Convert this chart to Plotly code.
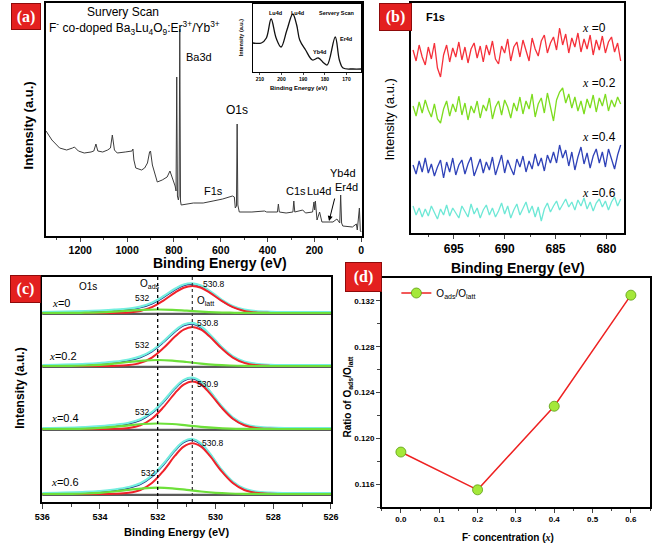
import plotly.graph_objects as go

W, H = 661, 545
def px(x): return x / W
def py(y): return 1 - y / H

# ---------------- DATA ----------------
# (a) survey scan
survey_energy = [1346, 1321, 1288, 1258, 1233, 1225, 1208, 1183, 1154, 1142, 1133, 1125, 1104, 1083,
                 1071, 1063, 1054, 1042, 1008, 979, 975, 971, 963, 938, 925, 913, 904, 900, 892, 883,
                 871, 850, 829, 817, 808, 800, 795, 791, 788, 785, 781, 778, 775, 772, 769, 717, 675,
                 633, 592, 550, 542, 538, 533, 530, 527, 521, 467, 413, 404, 358, 354, 350, 321, 292,
                 288, 284, 250, 238, 208, 202, 199, 196, 189, 178, 168, 133, 121, 104, 92, 88, 84, 79,
                 50, 38, 21, 17, 8, 4, 0]
survey_intensity = [105, 96, 88, 86, 88, 89, 85, 83, 84, 85, 92, 85, 84, 86,
                    88, 101, 86, 83, 84, 85, 87, 76, 68, 66, 68, 73, 84, 85, 71, 63,
                    54, 56, 59, 65, 59, 53, 50, 45, 159, 40, 36, 40, 207, 35, 31, 33, 33,
                    35, 37, 40, 39, 28, 30, 112, 31, 24, 24, 25, 24, 24, 32, 24, 23, 24,
                    35, 24, 26, 23, 24, 34, 26, 35, 16, 24, 14, 14, 14, 17, 13, 41, 13, 10,
                    9, 9, 12, 6, 28, 5, 4]
inset_energy = [213.2, 209.3, 207.0, 204.8, 202.5, 200.2, 197.5, 194.8, 193.0, 191.6, 188.9,
                185.7, 183.0, 180.5, 178.9, 175.2, 173.3, 171.6, 167.0, 163.2]
inset_intensity = [29, 29, 34, 53, 34, 25, 42, 58, 47, 32, 22, 12, 14, 9, 7, 35, 12, 4, 3, 3]
survey_ticks = [0, 200, 400, 600, 800, 1000, 1200]
inset_ticks = [170, 180, 190, 200, 210]

# (b) F1s
f1s_energy = [699.0, 698.7, 698.4, 698.1, 697.8, 697.5, 697.2, 696.9, 696.6, 696.3, 696.0, 695.7,
              695.4, 695.1, 694.8, 694.5, 694.2, 693.9, 693.6, 693.3, 693.0, 692.7, 692.4, 692.1,
              691.8, 691.5, 691.2, 690.9, 690.6, 690.3, 690.0, 689.7, 689.4, 689.1, 688.8, 688.5,
              688.2, 687.9, 687.6, 687.3, 687.0, 686.7, 686.4, 686.1, 685.8, 685.5, 685.2, 684.9,
              684.6, 684.3, 684.0, 683.7, 683.4, 683.1, 682.8, 682.5, 682.2, 681.9, 681.6, 681.3,
              681.0, 680.7, 680.4, 680.1, 679.8, 679.5, 679.2, 678.9, 678.6]
f1s_x0 = [183, 172, 188, 176, 168, 186, 174, 190, 165, 156, 178, 188, 171, 185, 176, 191, 173, 186,
          170, 184, 190, 175, 187, 171, 188, 178, 192, 174, 169, 187, 180, 194, 172, 186, 191, 176,
          193, 181, 172, 195, 184, 177, 192, 198, 180, 190, 196, 183, 205, 188, 199, 180, 195, 186,
          200, 181, 194, 184, 198, 178, 193, 183, 197, 180, 191, 196, 181, 190, 172]
f1s_x02 = [127, 117, 131, 120, 133, 123, 116, 129, 114, 110, 124, 132, 117, 129, 121, 137, 118, 130,
           113, 127, 120, 132, 115, 128, 122, 135, 114, 126, 132, 118, 133, 126, 115, 130, 122, 136,
           119, 132, 124, 139, 116, 129, 135, 120, 140, 126, 112, 133, 141, 145, 130, 139, 125, 136,
           122, 132, 119, 134, 125, 138, 121, 135, 127, 139, 122, 133, 126, 136, 129]
f1s_x04 = [68, 59, 72, 61, 75, 60, 69, 57, 66, 73, 55, 71, 61, 75, 58, 68, 73, 59, 69, 76, 57, 66,
           74, 60, 71, 63, 76, 58, 69, 78, 60, 73, 65, 58, 74, 66, 77, 61, 72, 64, 79, 67, 75, 62,
           78, 70, 81, 70, 88, 75, 83, 67, 81, 63, 76, 86, 69, 80, 65, 77, 84, 70, 81, 66, 84, 73,
           64, 78, 88]
f1s_x06 = [27, 18, 25, 16, 24, 17, 27, 20, 14, 24, 18, 28, 17, 25, 20, 15, 27, 21, 16, 29, 19, 25,
           15, 23, 28, 18, 25, 16, 22, 30, 19, 27, 15, 23, 29, 18, 25, 31, 20, 27, 16, 26, 12, 24,
           30, 21, 27, 32, 23, 29, 34, 26, 31, 23, 33, 27, 35, 24, 31, 22, 30, 34, 26, 32, 23, 31,
           36, 27, 34]
f1s_ticks = [680, 685, 690, 695]

# (c) O1s fits (heights above each baseline)
o1s_energy = [536, 534.5, 534, 533.5, 533, 532.6, 532.2, 531.8, 531.4, 531.1, 530.8, 530.5, 530.2,
              529.8, 529.4, 529.0, 528.6, 528.1, 527.6, 527.1, 526]
latt_x0 = [0, 0, 0, 0.1, 0.6, 2.1, 5.8, 12.4, 20.4, 25.2, 27, 25.2, 20.4, 12.4, 5.8, 2.1, 0.6, 0.1, 0, 0, 0]
latt_x02 = [0, 0, 0, 0.1, 0.9, 3.1, 8.4, 17.9, 29.4, 36.3, 39, 36.3, 29.4, 17.9, 8.4, 3.1, 0.9, 0.1, 0, 0, 0]
latt_x04 = [0, 0, 0, 0.2, 1.1, 3.8, 10.3, 21.8, 35.9, 44.4, 47.6, 44.4, 35.9, 21.8, 10.3, 3.8, 1.1, 0.2, 0, 0, 0]
latt_x06 = [0, 0, 0, 0.2, 1.2, 4.0, 11.0, 23.2, 38.3, 47.3, 50.7, 47.3, 38.3, 23.2, 11.0, 4.0, 1.2, 0.2, 0, 0, 0]
env_x0 = [0, 1.1, 1.7, 2.5, 3.7, 5.6, 9.5, 15.9, 23.4, 27.7, 28.9, 26.6, 21.3, 12.9, 6.3, 2.6, 1.0, 0.4, 0.1, 0, 0]
env_x02 = [0, 1.3, 2.2, 3.5, 5.7, 8.8, 14.6, 23.9, 34.6, 40.6, 42.3, 38.7, 31.0, 18.7, 9.1, 3.6, 1.4, 0.4, 0.1, 0, 0]
env_x04 = [0, 1.2, 2.1, 3.4, 5.5, 9.0, 16.0, 27.3, 40.6, 48.3, 50.6, 46.6, 37.3, 22.5, 10.9, 4.3, 1.5, 0.5, 0.1, 0, 0]
env_x06 = [0, 1.3, 2.2, 3.7, 6.2, 9.9, 17.5, 29.5, 43.7, 51.8, 54.2, 49.8, 40.0, 24.1, 11.7, 4.6, 1.7, 0.5, 0.1, 0, 0]
ads_energy = [536, 535, 534.5, 534, 533.5, 533, 532.5, 532, 531.5, 531, 530.5, 530, 529.5, 529, 528, 526]
ads_x0 = [0, 0.1, 0.3, 0.7, 1.4, 2.3, 3.2, 3.5, 3.2, 2.3, 1.4, 0.7, 0.3, 0.1, 0, 0]
ads_x02 = [0, 0.1, 0.5, 1.2, 2.4, 4.0, 5.4, 6.0, 5.4, 4.0, 2.4, 1.2, 0.5, 0.1, 0, 0]
ads_x04 = [0, 0.1, 0.4, 1.1, 2.2, 3.6, 5.0, 5.5, 5.0, 3.6, 2.2, 1.1, 0.4, 0.1, 0, 0]
ads_x06 = [0, 0.2, 0.5, 1.2, 2.5, 4.2, 5.7, 6.3, 5.7, 4.2, 2.5, 1.2, 0.5, 0.2, 0, 0]
o1s_peak_labels = ["530.8", "530.8", "530.9", "530.8"]
o1s_ticks = [526, 528, 530, 532, 534, 536]

# (d) ratio
f_conc = [0.0, 0.2, 0.4, 0.6]
ratio = [0.1188, 0.1155, 0.1228, 0.1325]

# ---------------- FIGURE ----------------
SANS = "Liberation Sans, Arial"
SERIF = "Liberation Serif, Times New Roman"
fig = go.Figure()

# (a)
fig.add_trace(go.Scatter(x=survey_energy, y=survey_intensity, mode="lines",
                         line=dict(color="#3c3c3c", width=1), xaxis="x", yaxis="y", showlegend=False))
fig.add_trace(go.Scatter(x=inset_energy, y=inset_intensity, mode="lines", line_shape="spline",
                         line=dict(color="#111", width=1.3), xaxis="x2", yaxis="y2", showlegend=False))
# (b)
for vals, col in [(f1s_x0, "#f5303a"), (f1s_x02, "#7ddc1f"), (f1s_x04, "#2f42b8"), (f1s_x06, "#6ee8d6")]:
    fig.add_trace(go.Scatter(x=f1s_energy, y=vals, mode="lines", line=dict(color=col, width=1.3),
                             xaxis="x3", yaxis="y3", showlegend=False))
# (c)
baselines = [189, 136, 73, 8]
sets = [(latt_x0, env_x0, ads_x0), (latt_x02, env_x02, ads_x02),
        (latt_x04, env_x04, ads_x04), (latt_x06, env_x06, ads_x06)]
for off, (latt, env, ads) in zip(baselines, sets):
    fig.add_trace(go.Scatter(x=[536, 526], y=[off - 0.8, off - 0.8], mode="lines",
                             line=dict(color="#5a5a5a", width=2.2), xaxis="x4", yaxis="y4", showlegend=False))
    fig.add_trace(go.Scatter(x=o1s_energy, y=[v + off for v in env], mode="lines", line_shape="spline",
                             line=dict(color="#1c2580", width=2.0), xaxis="x4", yaxis="y4", showlegend=False))
    fig.add_trace(go.Scatter(x=o1s_energy, y=[v + off + 0.8 for v in env], mode="lines", line_shape="spline",
                             line=dict(color="#74efe0", width=2.2), xaxis="x4", yaxis="y4", showlegend=False))
    fig.add_trace(go.Scatter(x=o1s_energy, y=[v + off for v in latt], mode="lines", line_shape="spline",
                             line=dict(color="#f0222a", width=2), xaxis="x4", yaxis="y4", showlegend=False))
    fig.add_trace(go.Scatter(x=ads_energy, y=[v + off for v in ads], mode="lines", line_shape="spline",
                             line=dict(color="#6ee03a", width=2.2), xaxis="x4", yaxis="y4", showlegend=False))
# (d)
fig.add_trace(go.Scatter(x=f_conc, y=ratio, mode="lines+markers", name="O<sub>ads</sub>/O<sub>latt</sub>",
                         line=dict(color="#ee2222", width=1.5),
                         marker=dict(size=10, color="#a4e83a", line=dict(color="#5c9d12", width=0.8)),
                         xaxis="x5", yaxis="y5", showlegend=True))

def axis(domain, rng, **kw):
    d = dict(domain=domain, range=rng, showline=True, linecolor="black", linewidth=1.5, mirror=True,
             showgrid=False, zeroline=False, ticks="", showticklabels=False)
    d.update(kw)
    return d

tf = lambda s: dict(family=SANS, size=s, color="black", weight="bold")

layout = dict(
    width=W, height=H, autosize=False, margin=dict(l=0, r=0, t=0, b=0),
    paper_bgcolor="white", plot_bgcolor="white",
    xaxis=axis([px(39), px(363)], [1346, -4], anchor="y", ticks="outside", ticklen=4, tickwidth=1.2,
               showticklabels=True, tickvals=survey_ticks, tickfont=tf(10.5),
               minor=dict(ticks="outside", ticklen=2.5, dtick=100, tick0=0, tickwidth=1)),
    yaxis=axis([py(236), py(3)], [0, 233], anchor="x"),
    xaxis2=axis([px(251), px(362)], [213.2, 163.2], anchor="y2", linewidth=1, ticks="outside", ticklen=2,
                tickwidth=0.8, showticklabels=True, tickvals=inset_ticks, tickfont=tf(5)),
    yaxis2=axis([py(72), py(4)], [0, 68], anchor="x2", linewidth=1),
    xaxis3=axis([px(413), px(631)], [699.2, 678.3], anchor="y3", ticks="outside", ticklen=4, tickwidth=1.2,
                showticklabels=True, tickvals=f1s_ticks, tickfont=tf(12),
                minor=dict(ticks="outside", ticklen=2.5, dtick=2.5, tick0=680, tickwidth=1)),
    yaxis3=axis([py(233), py(3)], [0, 230], anchor="x3"),
    xaxis4=axis([px(35), px(331)], [536, 526], anchor="y4", ticks="outside", ticklen=5, tickwidth=1.2,
                showticklabels=True, tickvals=o1s_ticks, tickfont=tf(9),
                minor=dict(ticks="outside", ticklen=3, dtick=1, tick0=526, tickwidth=1)),
    yaxis4=axis([py(502), py(277)], [0, 225], anchor="x4"),
    xaxis5=axis([px(383), px(658)], [-0.05, 0.65], anchor="y5", ticks="outside", ticklen=4, tickwidth=1.2,
                showticklabels=True, dtick=0.1, tick0=0, tickformat=".1f", tickfont=tf(8),
                minor=dict(ticks="outside", ticklen=2.5, dtick=0.05, tickwidth=1)),
    yaxis5=axis([py(507), py(278)], [0.114, 0.134], anchor="x5", ticks="outside", ticklen=4, tickwidth=1.2,
                showticklabels=True, dtick=0.004, tick0=0.116, tickformat=".3f", tickfont=tf(8),
                minor=dict(ticks="outside", ticklen=2.5, dtick=0.002, tick0=0.116, tickwidth=1)),
    legend=dict(x=px(398), y=py(293), xanchor="left", yanchor="middle", bgcolor="rgba(0,0,0,0)",
                font=dict(family=SANS, size=10, color="black"), itemwidth=30),
)
fig.update_layout(**layout)

ann = []
def A(text, x, y, size, bold=False, angle=0, xanchor="center", family=SANS, color="black"):
    ann.append(dict(text=text, x=px(x), y=py(y), xref="paper", yref="paper", showarrow=False,
                    xanchor=xanchor, yanchor="middle", textangle=angle,
                    font=dict(family=family, size=size, color=color, weight="bold" if bold else "normal")))

XI = "<span style='font-family:Liberation Serif'><i>x</i></span>"
# (a)
A("Survery Scan", 118, 12, 12)
A("F<sup>-</sup> co-doped Ba<sub>3</sub>Lu<sub>4</sub>O<sub>9</sub>:Er<sup>3+</sup>/Yb<sup>3+</sup>", 130, 28, 12)
A("Ba3d", 196, 57, 11)
A("O1s", 235, 110, 12)
A("F1s", 211, 191, 11)
A("C1s", 295, 191, 11)
A("Lu4d", 319, 191, 11)
A("Yb4d", 343, 173, 11)
A("Er4d", 347, 187, 11)
A("Intensity (a.u.)", 22, 125, 13, bold=True, angle=-90)
A("Binding Energy (eV)", 217, 263, 14, bold=True)
# inset
A("Lu4d", 274, 13, 5.5, bold=True)
A("Lu4d", 297, 13, 5.5, bold=True)
A("Servery Scan", 337, 13, 5.5, bold=True)
A("Yb4d", 319, 52, 5.5, bold=True)
A("Er4d", 346, 39, 5.5, bold=True)
A("Intensity (a.u.)", 239, 38, 5.5, bold=True, angle=-90)
A("Binding Energy (eV)", 298, 88, 6, bold=True)
# (b)
A("F1s", 438, 17, 11, bold=True)
A(XI + " =0", 586, 28, 12, xanchor="left")
A(XI + " =0.2", 586, 83, 12, xanchor="left")
A(XI + " =0.4", 586, 137, 12, xanchor="left")
A(XI + " =0.6", 586, 193, 12, xanchor="left")
A("Intensity (a.u.)", 390, 120, 13, angle=-90)
A("Binding Energy (eV)", 523, 268, 14, bold=True)
# (c)
A("O1s", 82, 286, 10)
A("O<sub>ads</sub>", 133, 284, 10, xanchor="left")
A("O<sub>latt</sub>", 192, 301, 10, xanchor="left")
peak_lbl_pos = [(211, 284), (205, 323), (205, 384), (210, 443)]
p532_pos = [(137, 298), (137, 345), (137, 412), (143, 473)]
xlab_pos = [(43, 303), (40, 356), (42, 418), (42, 482)]
xlab_txt = ["=0", "=0.2", "=0.4", "=0.6"]
for lbl, (x1, y1), (x2, y2), (x3, y3), t in zip(o1s_peak_labels, peak_lbl_pos, p532_pos, xlab_pos, xlab_txt):
    A(lbl, x1, y1, 8.5)
    A("532", x2, y2, 8.5)
    A(XI + t, x3, y3, 11, xanchor="left")
A("Intensity (a.u.)", 12, 388, 12, bold=True, angle=-90)
A("Binding Energy (eV)", 173, 532, 11, bold=True)
# (d)
A("Ratio of O<sub>ads</sub>/O<sub>latt</sub>", 348, 397, 10, bold=True, angle=-90)
A("F<sup>-</sup> concentration (" + XI + ")", 512, 537, 10, bold=True)

# arrow in (a)
ann.append(dict(x=px(329), y=py(221), xref="paper", yref="paper", ax=6, ay=-24, text="",
                showarrow=True, arrowhead=2, arrowsize=1, arrowwidth=1, arrowcolor="black"))

# panel label boxes (as boxed annotations)
boxes = [("(a)", 3, 3, 33, 30), ("(b)", 380, 3, 413, 31), ("(c)", 2, 275, 33, 303), ("(d)", 345, 262, 382, 292)]
for t, x0, y0, x1, y1 in boxes:
    ann.append(dict(text=t, x=px(x0), y=py(y0), xref="paper", yref="paper", xanchor="left", yanchor="top",
                    showarrow=False, width=x1 - x0 - 2, height=y1 - y0 - 2, align="center", valign="middle",
                    bgcolor="#e3201f", bordercolor="#8f0a0a", borderwidth=1, borderpad=0,
                    font=dict(family=SERIF, size=16, color="white", weight="bold")))

# dashed reference lines in (c)
shapes = []
for e, col in [(532, "black"), (530.8, "#444")]:
    shapes.append(dict(type="line", xref="x4", yref="y4 domain", x0=e, x1=e, y0=0, y1=1,
                       line=dict(color=col, width=1.3, dash="dot")))

fig.update_layout(annotations=ann, shapes=shapes)
fig.write_html("out.html", config={"displayModeBar": False},
               post_script="document.body.style.margin='0';document.body.style.padding='0';"
                           "document.documentElement.style.overflow='hidden';")
